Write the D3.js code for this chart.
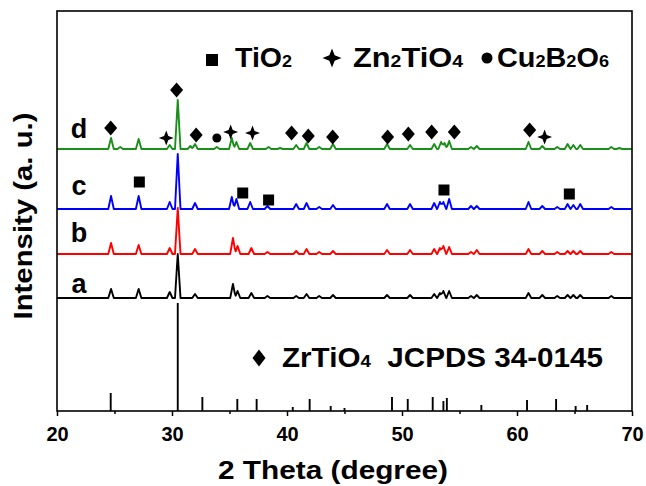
<!DOCTYPE html>
<html>
<head>
<meta charset="utf-8">
<script src="https://cdnjs.cloudflare.com/ajax/libs/d3/7.8.5/d3.min.js"></script>
<style>
  body { margin: 0; background: #fff; }
  text { font-family: Arial, "Liberation Sans", Helvetica, sans-serif; font-weight: bold; fill: #000; }
</style>
</head>
<body>
<svg id="chart" width="646" height="486"></svg>
<script>
// peak lists: [2theta, intensity above the pattern baseline]
const patternA = [[24.7, 9], [27.1, 9], [29.8, 6], [30.5, 44], [32.0, 4], [35.3, 14], [35.7, 7], [36.9, 5], [38.3, 2],
    [40.8, 2], [41.7, 4], [42.8, 2], [44.0, 3], [48.7, 3], [50.7, 3], [52.8, 4], [53.3, 5], [53.6, 7], [54.1, 7],
    [56.0, 2], [56.5, 3], [61.0, 5], [62.2, 3], [63.5, 2], [64.4, 3], [64.9, 3], [65.5, 3], [68.2, 2]];
const patternB = [[24.7, 11], [27.1, 9], [29.8, 6], [30.5, 46], [32.0, 5], [35.3, 16], [35.7, 8], [36.9, 6], [38.3, 2],
    [40.8, 3], [41.7, 5], [42.8, 2], [44.0, 3], [48.7, 4], [50.7, 4], [52.8, 5], [53.3, 6], [53.6, 8], [54.1, 7],
    [56.0, 2], [56.5, 4], [61.0, 5], [62.2, 3], [63.5, 2], [64.4, 3], [64.9, 3], [65.5, 3], [68.2, 2]];
const patternC = [[24.7, 13], [27.1, 13], [29.8, 7], [30.5, 55], [32.0, 6], [35.2, 12], [35.6, 10], [36.8, 7], [38.3, 3],
    [40.8, 5], [41.7, 6], [42.8, 2], [44.0, 4], [48.7, 5], [50.7, 5], [52.8, 6], [53.3, 7], [53.6, 7], [54.1, 10],
    [56.0, 3], [56.5, 3], [61.0, 7], [62.2, 3], [63.5, 2], [64.4, 5], [64.9, 4], [65.5, 5], [68.2, 2]];
const patternD = [[24.7, 11], [25.5, 2], [27.1, 10], [29.8, 4], [30.5, 49], [31.6, 3], [32.0, 5], [33.9, 2], [35.2, 11],
    [35.6, 7], [36.8, 6], [38.4, 2], [39.4, 1], [40.8, 4], [41.7, 6], [42.8, 2], [44.0, 5], [48.7, 5], [50.7, 4],
    [52.8, 5], [53.4, 7], [53.7, 6], [54.1, 8], [56.0, 2], [56.5, 3], [61.0, 7], [62.2, 3], [63.5, 2], [64.4, 5],
    [64.9, 4], [65.5, 4], [68.2, 2], [68.9, 1]];

const seriesNames = ["a", "b", "c", "d"];
const seriesOffsets = [113, 157, 202, 262];
const seriesColors = ["#000000", "#ff0000", "#0000ff", "#1a8f1a"];

// ZrTiO4 JCPDS 34-0145 reference lines
const refLines = [[24.67, 18], [30.5, 108], [32.64, 14], [35.68, 12], [37.36, 12], [40.5, 4], [41.97, 12], [43.8, 5],
    [45.0, 3], [49.13, 14], [50.5, 12], [52.67, 14], [53.6, 10], [53.9, 13], [56.9, 6], [60.87, 11], [63.4, 12],
    [65.1, 5], [66.1, 6]];

// phase markers: [2theta, intensity level]
const diamondMarks = [[24.67, 283], [30.4, 321], [32.1, 276], [40.4, 278], [41.85, 275], [43.97, 274], [48.75, 274],
    [50.55, 277], [52.58, 279], [54.55, 279], [61.1, 281]];
const starMarks = [[29.5, 273], [35.1, 279], [37.0, 278], [62.4, 274]];
const circleMarks = [[33.9, 273]];
const squareMarks = [[27.16, 229], [36.15, 218], [38.4, 211], [53.65, 221], [64.55, 217]];

const xTicks = [20, 30, 40, 50, 60, 70];
const xMinorTicks = [25, 35, 45, 55, 65];

const svg = d3.select("#chart");
const margin = {left: 57, right: 14, top: 11, bottom: 75};
const width = 646, height = 486;

const x = d3.scaleLinear().domain([20, 70]).range([margin.left, width - margin.right]);
const y = d3.scaleLinear().domain([0, 400]).range([height - margin.bottom, margin.top]);

// symbol paths centred on 0,0
function diamondPath(w, h) {
    return `M0,${-h / 2}L${w / 2},0L0,${h / 2}L${-w / 2},0Z`;
}
function starPath(s) {
    const r = s / 2, k = s * 0.14;
    return `M0,${-r}L${k},${-k}L${r},0L${k},${k}L0,${r}L${-k},${k}L${-r},0L${-k},${-k}Z`;
}
function squarePath(s) {
    return `M${-s / 2},${-s / 2}h${s}v${s}h${-s}Z`;
}
function circlePath(r) {
    return `M${r},0A${r},${r} 0 1,1 ${-r},0A${r},${r} 0 1,1 ${r},0Z`;
}

// piecewise profile from a peak list
function profile(peaks, offset) {
    const w = 0.24;
    let xs = [20, 70];
    peaks.forEach(p => xs.push(p[0] - w, p[0], p[0] + w));
    xs = xs.filter(v => v >= 20 && v <= 70).sort((a, b) => a - b);
    return xs.map(t => [t, offset + d3.max(peaks, p => Math.max(0, p[1] * (1 - Math.abs(t - p[0]) / w)))]);
}

const line = d3.line().x(d => x(d[0])).y(d => y(d[1]));
const patterns = [patternA, patternB, patternC, patternD];

svg.append("g").attr("class", "patterns")
    .selectAll("path")
    .data(patterns)
    .enter().append("path")
    .attr("d", (d, i) => line(profile(d, seriesOffsets[i])))
    .attr("fill", "none")
    .attr("stroke", (d, i) => seriesColors[i])
    .attr("stroke-width", 1.9)
    .attr("stroke-linejoin", "round");

svg.append("g").attr("class", "ref")
    .selectAll("line")
    .data(refLines)
    .enter().append("line")
    .attr("x1", d => x(d[0]))
    .attr("x2", d => x(d[0]))
    .attr("y1", y(0))
    .attr("y2", d => y(d[1]))
    .attr("stroke", "#000")
    .attr("stroke-width", 1.9);

// series letters
const labelBaselines = [293, 242, 195, 138];
svg.append("g")
    .selectAll("text")
    .data(seriesNames)
    .enter().append("text")
    .attr("x", 79)
    .attr("y", (d, i) => labelBaselines[i])
    .attr("text-anchor", "middle")
    .style("font-size", "27px")
    .text(d => d);

// markers
const marks = svg.append("g").attr("class", "marks");
marks.selectAll("path.dia").data(diamondMarks).enter().append("path")
    .attr("class", "dia")
    .attr("transform", d => `translate(${x(d[0])},${y(d[1])})`)
    .attr("d", diamondPath(13, 15));
marks.selectAll("path.star").data(starMarks).enter().append("path")
    .attr("class", "star")
    .attr("transform", d => `translate(${x(d[0])},${y(d[1])})`)
    .attr("d", starPath(15));
marks.selectAll("path.circ").data(circleMarks).enter().append("path")
    .attr("class", "circ")
    .attr("transform", d => `translate(${x(d[0])},${y(d[1])})`)
    .attr("d", circlePath(4.5));
marks.selectAll("path.sq").data(squareMarks).enter().append("path")
    .attr("class", "sq")
    .attr("transform", d => `translate(${x(d[0])},${y(d[1])})`)
    .attr("d", squarePath(11));

// axes
const xAxis = svg.append("g")
    .attr("transform", `translate(0,${y(0)})`)
    .call(d3.axisBottom(x).tickValues(xTicks).tickSize(5).tickPadding(11).tickFormat(d3.format("d")));
xAxis.select(".domain").remove();
xAxis.selectAll("line").attr("stroke", "#000").attr("stroke-width", 1.5);
xAxis.selectAll("text").style("font-size", "20px").attr("font-family", null);

svg.append("g")
    .attr("transform", `translate(0,${y(0)})`)
    .call(d3.axisBottom(x).tickValues(xMinorTicks).tickSize(3).tickFormat(""))
    .call(g => g.select(".domain").remove())
    .selectAll("line").attr("stroke", "#000").attr("stroke-width", 1.5);

svg.append("rect")
    .attr("x", x(20))
    .attr("y", y(400))
    .attr("width", x(70) - x(20))
    .attr("height", y(0) - y(400))
    .attr("fill", "none")
    .attr("stroke", "#000")
    .attr("stroke-width", 1.6);

// axis titles
svg.append("text")
    .attr("x", 333)
    .attr("y", 479)
    .attr("text-anchor", "middle")
    .attr("textLength", 230)
    .attr("lengthAdjust", "spacingAndGlyphs")
    .style("font-size", "26px")
    .text("2 Theta (degree)");

svg.append("text")
    .attr("transform", "translate(32,216) rotate(-90)")
    .attr("text-anchor", "middle")
    .attr("textLength", 207)
    .attr("lengthAdjust", "spacingAndGlyphs")
    .style("font-size", "26px")
    .text("Intensity (a. u.)");

// legends: text split into [string, isSubscript]
function formula(g, parts, size, len) {
    const t = g.append("text").style("font-size", size + "px")
        .attr("textLength", len)
        .attr("lengthAdjust", "spacingAndGlyphs");
    parts.forEach(p => {
        t.append("tspan")
            .style("font-size", p[1] ? Math.round(size * 0.64) + "px" : size + "px")
            .text(p[0]);
    });
    return t;
}

const tio2Parts = [["TiO", false], ["2", true]];
const zn2tio4Parts = [["Zn", false], ["2", true], ["TiO", false], ["4", true]];
const cu2b2o6Parts = [["Cu", false], ["2", true], ["B", false], ["2", true], ["O", false], ["6", true]];
const zrtio4Parts = [["Z", false], ["r", false], ["TiO", false], ["4", true], ["  JCPDS 34-0145", false]];

const legend = svg.append("g");
legend.append("path").attr("transform", "translate(212,60)").attr("d", squarePath(12));
formula(legend, tio2Parts, 27, 57).attr("x", 235).attr("y", 67);
legend.append("path").attr("transform", "translate(332,58)").attr("d", starPath(19));
formula(legend, zn2tio4Parts, 27, 110).attr("x", 353).attr("y", 67);
legend.append("path").attr("transform", "translate(487,58)").attr("d", circlePath(5.5));
formula(legend, cu2b2o6Parts, 27, 112).attr("x", 497).attr("y", 67);

legend.append("path").attr("transform", "translate(259,358)").attr("d", diamondPath(13, 17));
formula(legend, zrtio4Parts, 27, 321).attr("x", 282).attr("y", 367).attr("xml:space", "preserve");
</script>
</body>
</html>
